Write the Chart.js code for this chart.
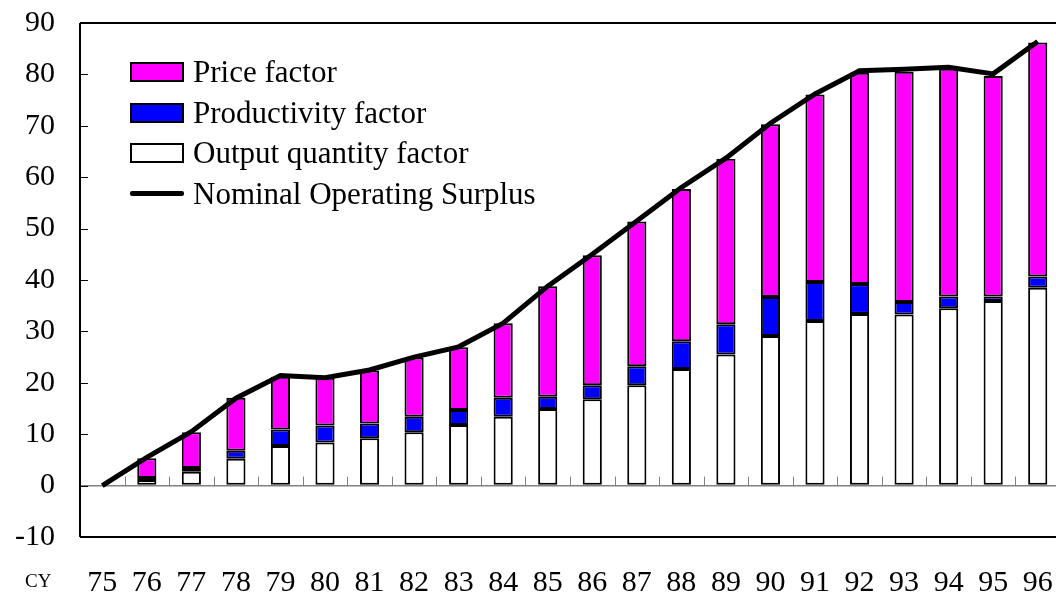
<!DOCTYPE html>
<html>
<head>
<meta charset="utf-8">
<script src="https://cdn.jsdelivr.net/npm/chart.js@4.4.0/dist/chart.umd.min.js"></script>
<style>
    body { margin: 0; background: #fff; overflow: hidden; }
    #wrap { position: relative; width: 1060px; height: 596px; }
    #legend { position: absolute; left: 130px; top: 52px; font-family: 'Liberation Serif', 'Times New Roman', serif; font-size: 31px; color: #000; }
    #legend .row { display: flex; align-items: center; height: 40.5px; }
    #legend .sym { width: 50px; height: 16px; border: 2px solid #000; margin-right: 9px; }
    #legend .ln { width: 54px; height: 5px; background: #000; margin-right: 9px; border-radius: 2px; }
    #cy { position: absolute; left: 25px; top: 570px; font-family: 'Liberation Serif', serif; font-size: 19px; }
</style>
</head>
<body>
<div id="wrap">
    <canvas id="chart" width="1060" height="596"></canvas>
    <div id="legend">
        <div class="row"><span class="sym" style="background:#ff00ff"></span>Price factor</div>
        <div class="row"><span class="sym" style="background:#0000ff"></span>Productivity factor</div>
        <div class="row"><span class="sym" style="background:#fff"></span>Output quantity factor</div>
        <div class="row"><span class="ln"></span>Nominal Operating Surplus</div>
    </div>
    <div id="cy">CY</div>
</div>
<script>
// Calendar years 1975-1996
const years = ['75', '76', '77', '78', '79', '80', '81', '82', '83', '84', '85',
               '86', '87', '88', '89', '90', '91', '92', '93', '94', '95', '96'];

const outputQty = [null, 1.1, 2.7, 5.2, 7.7, 8.4, 9.2, 10.4, 11.8, 13.4, 14.9,
                   16.8, 19.5, 22.7, 25.5, 29.1, 32.0, 33.4, 33.3, 34.5, 35.9, 38.5];
const productivity = [null, 0.4, 0.7, 1.6, 3.2, 3.3, 2.9, 3.0, 2.9, 3.7, 2.4,
                      2.7, 3.7, 5.4, 5.9, 7.6, 7.6, 5.8, 2.4, 2.3, 0.9, 2.2];
const price = [null, 3.8, 7.0, 10.3, 10.3, 9.3, 10.3, 11.5, 12.2, 14.5, 21.5,
               25.3, 28.2, 29.6, 32.2, 33.6, 36.5, 41.1, 44.8, 44.3, 42.9, 45.5];
const nominalSurplus = [0, 5.5, 10.5, 17.0, 21.4, 21.0, 22.5, 25.0, 27.0, 31.6, 38.8,
                        45.0, 51.5, 58.0, 63.7, 70.5, 76.2, 80.7, 81.0, 81.4, 80.1, 86.4];

// frame + inward ticks, drawn from the chart's own scales
const framePlugin = {
    id: 'frame',
    afterDatasetsDraw(chart) {
        const { ctx, chartArea: a, scales } = chart;
        const zeroY = scales.y.getPixelForValue(0);
        ctx.save();
        // small ticks on the zero line between categories
        ctx.strokeStyle = '#808080';
        ctx.lineWidth = 1;
        for (let i = 1; i < years.length; i++) {
            const x = Math.round((scales.x.getPixelForValue(i - 1) + scales.x.getPixelForValue(i)) / 2) + 0.5;
            ctx.beginPath();
            ctx.moveTo(x, zeroY);
            ctx.lineTo(x, zeroY - 9);
            ctx.stroke();
        }
        // y ticks pointing into the plot
        ctx.strokeStyle = '#000';
        scales.y.ticks.forEach(t => {
            const y = Math.round(scales.y.getPixelForValue(t.value)) + 0.5;
            ctx.beginPath();
            ctx.moveTo(a.left, y);
            ctx.lineTo(a.left + 8, y);
            ctx.stroke();
        });
        ctx.lineWidth = 2;
        ctx.beginPath();
        ctx.moveTo(a.left, a.top);
        ctx.lineTo(a.right, a.top);
        ctx.moveTo(a.left, a.bottom);
        ctx.lineTo(a.right, a.bottom);
        ctx.moveTo(a.left, a.top);
        ctx.lineTo(a.left, a.bottom);
        ctx.stroke();
        ctx.restore();
    }
};

const barStyle = { borderColor: '#000', borderWidth: 2, borderSkipped: false,
                   categoryPercentage: 1, barPercentage: 0.43, stack: 'bars', order: 1 };

new Chart(document.getElementById('chart'), {
    type: 'bar',
    data: {
        labels: years,
        datasets: [
            { ...barStyle, label: 'Output quantity factor', data: outputQty, backgroundColor: '#ffffff' },
            { ...barStyle, label: 'Productivity factor', data: productivity, backgroundColor: '#0000ff' },
            { ...barStyle, label: 'Price factor', data: price, backgroundColor: '#ff00ff' },
            {
                type: 'line', label: 'Nominal Operating Surplus', data: nominalSurplus,
                borderColor: '#000', borderWidth: 5, pointRadius: 0, tension: 0,
                stack: 'line', order: 0, fill: false
            }
        ]
    },
    options: {
        responsive: false,
        animation: false,
        layout: { padding: { top: 23, left: 0, right: 0, bottom: 0 } },
        plugins: { legend: { display: false }, tooltip: { enabled: false } },
        scales: {
            x: {
                stacked: true,
                grid: { display: false, drawTicks: false },
                border: { display: false },
                ticks: { color: '#000', padding: 28, font: { family: 'Liberation Serif', size: 30 } },
                afterFit(scale) {
                    scale.height = 59;
                    scale.paddingLeft = 0;
                    scale.paddingRight = 0;
                }
            },
            y: {
                stacked: true,
                min: -10, max: 90,
                grid: {
                    drawTicks: false,
                    color: c => (c.tick && c.tick.value === 0 ? '#808080' : 'rgba(0,0,0,0)'),
                    lineWidth: 1.5
                },
                border: { display: false },
                ticks: { stepSize: 10, color: '#000', padding: 25, font: { family: 'Liberation Serif', size: 30 } },
                afterFit(scale) {
                    scale.width = 80;
                    scale.paddingTop = 0;
                    scale.paddingBottom = 0;
                }
            }
        }
    },
    plugins: [framePlugin]
});
</script>
</body>
</html>
